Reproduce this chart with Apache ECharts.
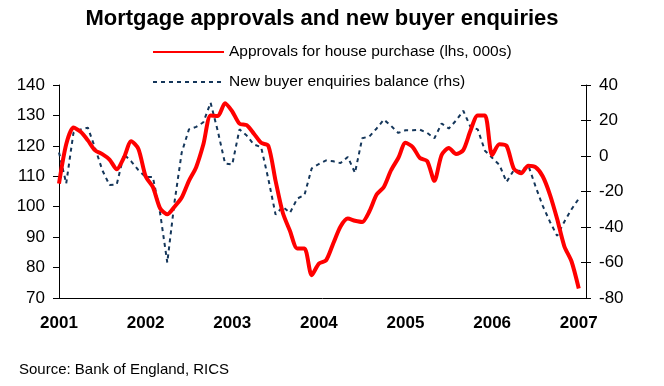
<!DOCTYPE html>
<html>
<head>
<meta charset="utf-8">
<script src="https://cdn.jsdelivr.net/npm/echarts@6/dist/echarts.min.js"></script>
<style>html,body{margin:0;padding:0;background:#fff}#c{width:664px;height:386px}</style>
</head>
<body>
<div id="c"></div>
<script>
// Months Jan 2001 .. Feb 2007
const months = [];
for (let y = 2001; y <= 2007; y++) {
  for (let m = 1; m <= 12; m++) {
    if (y === 2007 && m > 2) break;
    months.push(y + '-' + String(m).padStart(2, '0'));
  }
}
const yearLabels = ['2001','2002','2003','2004','2005','2006','2007'];
const leftTicks = [70, 80, 90, 100, 110, 120, 130, 140];
const rightTicks = [-80, -60, -40, -20, 0, 20, 40];

const approvals = [107.6, 120.5, 126, 124.6, 121.8, 118.5, 117.3, 115.5, 112.3, 116.2, 121.5, 119,
  110, 106.5, 99.5, 97.5, 100, 103, 108.5, 113, 120.5, 130, 129.8, 134,
  131.3, 127.3, 126.8, 124, 121, 120, 108.5, 98, 92, 86.3, 86.3, 77.5,
  81.3, 82.4, 88, 93.5, 96.1, 95.4, 95, 98.5, 104, 106.5, 112, 116,
  121, 119.6, 116, 115, 108.5, 117, 119.3, 117.3, 118.6, 125, 130, 130,
  117, 120.5, 120, 112.5, 111, 113.5, 113, 110, 104, 96, 87, 82,
  73.1, null];

const enquiries = [2, -15.5, 13, 15, 16, 4.5, -8, -16.4, -16, 1, -3, -8,
  -11.8, -11.8, -32, -60, -26, 2, 15, 16.4, 19, 30, 14, -4.2,
  -4.8, 15, 11.5, 6.5, 5, -13, -33, -28.6, -32, -24, -22, -7,
  -4.5, -2.5, -3, -4, -0.5, -9.5, 10, 11, 15.5, 20.5, 17, 13,
  14.5, 14.5, 14.8, 13, 10, 18.3, 15.5, 20, 25.5, 16.4, 15, 3,
  -1, -5, -14.6, -8, -8.5, -5.2, -17, -28, -37, -45, -37, -30,
  -24, null];

const sourceText = 'Source: Bank of England, RICS';

const FONT = '"Liberation Sans", Arial, sans-serif';
const chart = echarts.init(document.getElementById('c'), null, {renderer: 'canvas'});
chart.setOption({
  animation: false,
  backgroundColor: '#ffffff',
  title: [{
    text: 'Mortgage approvals and new buyer enquiries',
    left: 322, textAlign: 'center', top: 8, padding: 0,
    textStyle: {fontFamily: FONT, fontSize: 22, fontWeight: 'bold', color: '#000'}
  }, {
    text: sourceText, left: 19, top: 362, padding: 0,
    textStyle: {fontFamily: FONT, fontSize: 15, fontWeight: 'normal', color: '#000'}
  }],
  legend: {
    orient: 'vertical', left: 152, top: 44, padding: 0,
    itemWidth: 71, itemHeight: 14, itemGap: 14, itemTextGap: 1,
    itemStyle: {opacity: 0},
    textStyle: {fontFamily: FONT, fontSize: 15.5, color: '#000'},
    data: ['Approvals for house purchase (lhs, 000s)', 'New buyer enquiries balance (rhs)']
  },
  grid: {left: 59, right: 78, top: 85, bottom: 88, containLabel: false},
  xAxis: {
    type: 'category', data: months, boundaryGap: false,
    axisLine: {show: true, onZero: false, lineStyle: {color: '#000', width: 1}},
    axisTick: {show: false},
    axisLabel: {
      interval: 11, margin: 17, fontFamily: FONT, fontSize: 17, fontWeight: 'bold', color: '#000',
      formatter: function (v) { return v.endsWith('-01') ? yearLabels[yearLabels.indexOf(v.slice(0,4))] : ''; }
    },
    splitLine: {show: false}
  },
  yAxis: [
    {
      type: 'value', position: 'left', min: leftTicks[0], max: leftTicks[leftTicks.length-1], interval: 10,
      axisLine: {show: true, onZero: false, lineStyle: {color: '#000', width: 1}},
      axisTick: {show: true, length: 6, lineStyle: {color: '#000'}},
      axisLabel: {margin: 14, fontFamily: FONT, fontSize: 17, color: '#000'},
      splitLine: {show: false}
    },
    {
      type: 'value', position: 'right', min: rightTicks[0], max: rightTicks[rightTicks.length-1], interval: 20,
      axisLine: {show: true, onZero: false, lineStyle: {color: '#000', width: 1}},
      axisTick: {show: true, length: 5, lineStyle: {color: '#000'}},
      axisLabel: {margin: 13, fontFamily: FONT, fontSize: 17, color: '#000'},
      splitLine: {show: false}
    },
    {
      type: 'value', position: 'right', min: rightTicks[0], max: rightTicks[rightTicks.length-1], interval: 20,
      axisLine: {show: false, onZero: false},
      axisTick: {show: true, inside: true, length: 5, lineStyle: {color: '#000'}},
      axisLabel: {show: false},
      splitLine: {show: false}
    }
  ],
  series: [
    {
      name: 'New buyer enquiries balance (rhs)', type: 'line', yAxisIndex: 1,
      data: enquiries, symbol: 'none', smooth: false, z: 2,
      lineStyle: {color: '#14365A', width: 2, type: [4, 4]},
      itemStyle: {color: '#14365A'}
    },
    {
      name: 'Approvals for house purchase (lhs, 000s)', type: 'line', yAxisIndex: 0,
      data: approvals, symbol: 'none', smooth: 0.25, z: 3,
      lineStyle: {color: '#FF0000', width: 4},
      itemStyle: {color: '#FF0000'}
    }
  ]
});
</script>
</body>
</html>
